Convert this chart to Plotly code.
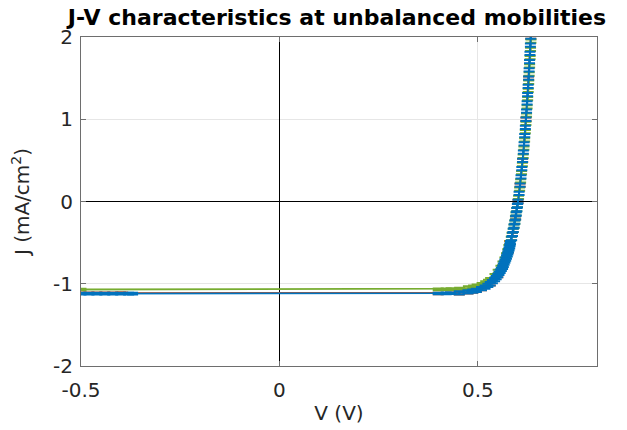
import plotly.graph_objects as go

# ---- data (V in volts, J in mA/cm^2) ----
red_v = [-0.50, -0.48, -0.46, -0.44, -0.42, -0.40, -0.395,
         0.40, 0.431, 0.453, 0.475, 0.487, 0.496, 0.509, 0.531, 0.550, 0.562,
         0.577, 0.580, 0.587, 0.595, 0.601, 0.6062, 0.6126, 0.621, 0.6277, 0.6332,
         0.6342]
red_j = [-1.115, -1.115, -1.115, -1.115, -1.115, -1.115, -1.115,
         -1.118, -1.115, -1.11, -1.10, -1.09, -1.08, -1.06, -1.0, -0.9, -0.8,
         -0.6, -0.5, -0.4, -0.2, 0.0, 0.2, 0.5, 1.0, 1.5, 2.0,
         2.1]

green_v = [-0.50, 0.40, 0.42, 0.4325, 0.454, 0.476, 0.489, 0.498, 0.5105, 0.5196,
           0.5266, 0.532, 0.543, 0.551, 0.558, 0.563, 0.568, 0.572, 0.575, 0.578,
           0.581, 0.584, 0.586, 0.589, 0.591, 0.593, 0.5945, 0.596, 0.598, 0.5995,
           0.6024, 0.6051, 0.6076, 0.6099, 0.612, 0.614, 0.6159, 0.6177, 0.6194, 0.621,
           0.6225, 0.6239, 0.6253, 0.6267, 0.6279, 0.6291, 0.6303, 0.6315, 0.6326, 0.6336,
           0.6346]
green_j = [-1.07, -1.069, -1.067, -1.065, -1.06, -1.05, -1.04, -1.03, -1.01, -0.99,
           -0.97, -0.95, -0.9, -0.85, -0.8, -0.75, -0.7, -0.65, -0.6, -0.55,
           -0.5, -0.45, -0.4, -0.35, -0.3, -0.25, -0.2, -0.15, -0.1, -0.05,
           0.05, 0.15, 0.25, 0.35, 0.45, 0.55, 0.65, 0.75, 0.85, 0.95,
           1.05, 1.15, 1.25, 1.35, 1.45, 1.55, 1.65, 1.75, 1.85, 1.95,
           2.05]

blue_v = [-0.50, -0.48, -0.46, -0.44, -0.42, -0.40, -0.38, -0.37,
          0.40, 0.42, 0.431, 0.453, 0.475, 0.487, 0.496, 0.509, 0.518, 0.525,
          0.531, 0.5365, 0.542, 0.546, 0.550, 0.553, 0.556, 0.559, 0.562, 0.564,
          0.566, 0.568, 0.570, 0.572, 0.574, 0.5755, 0.577, 0.5785, 0.580, 0.581,
          0.582, 0.585, 0.587, 0.589, 0.591, 0.593, 0.595, 0.5965, 0.598, 0.5996,
          0.601, 0.6037, 0.6062, 0.6085, 0.6106, 0.6126, 0.6145, 0.6162, 0.6179, 0.6195,
          0.621, 0.6225, 0.6239, 0.6252, 0.6265, 0.6277, 0.6289, 0.630, 0.6311, 0.6322,
          0.6332, 0.6342]
blue_j = [-1.12, -1.12, -1.12, -1.12, -1.12, -1.12, -1.12, -1.12,
          -1.118, -1.117, -1.115, -1.11, -1.10, -1.09, -1.08, -1.06, -1.04, -1.02,
          -1.0, -0.975, -0.95, -0.925, -0.9, -0.875, -0.85, -0.825, -0.8, -0.775,
          -0.75, -0.725, -0.7, -0.675, -0.65, -0.625, -0.6, -0.575, -0.55, -0.525,
          -0.5, -0.45, -0.4, -0.35, -0.3, -0.25, -0.2, -0.15, -0.1, -0.05,
          0.0, 0.1, 0.2, 0.3, 0.4, 0.5, 0.6, 0.7, 0.8, 0.9,
          1.0, 1.1, 1.2, 1.3, 1.4, 1.5, 1.6, 1.7, 1.8, 1.9,
          2.0, 2.1]

# small error-bar half-lengths
red_err = [0.01] * 9 + [0.02] * (len(red_j) - 9)
green_err = [0.01] * 5 + [0.02] * (len(green_j) - 5)
blue_err = [0.01] * 11 + [0.02] * (len(blue_j) - 11)

x_ticks = [-0.5, 0, 0.5]
x_ticktext = ["-0.5", "0", "0.5"]
y_ticks = [-2, -1, 0, 1, 2]
y_ticktext = ["-2", "-1", "0", "1", "2"]

FONT = "DejaVu Sans"

fig = go.Figure()
for v, j, e, col in [(red_v, red_j, red_err, "#D95319"),
                     (green_v, green_j, green_err, "#77AC30"),
                     (blue_v, blue_j, blue_err, "#0072BD")]:
    fig.add_trace(go.Scatter(
        x=v, y=j, mode="lines",
        line=dict(color=col, width=1.8),
        error_y=dict(type="data", array=e, visible=True, color=col,
                     thickness=2, width=5.5),
        showlegend=False,
    ))

axis_common = dict(
    showline=True, linecolor="#6e6e6e", linewidth=1, mirror="ticks",
    ticks="inside", ticklen=5, tickcolor="#6e6e6e",
    showgrid=True, gridcolor="#e6e6e6", gridwidth=1,
    zeroline=True, zerolinecolor="#000000", zerolinewidth=1,
    automargin=False,
    tickfont=dict(family=FONT, size=20, color="#262626"),
    title_font=dict(family=FONT, size=20, color="#262626"),
)

fig.update_layout(
    width=627, height=430,
    margin=dict(l=73, r=38, t=29, b=72),
    paper_bgcolor="white", plot_bgcolor="white",
    title=dict(text="<b>J-V characteristics at unbalanced mobilities</b>",
               x=0.5247, xref="container", xanchor="center",
               y=0.979, yref="container", yanchor="middle",
               font=dict(family=FONT, size=22, color="#000000"),
               automargin=False),
    xaxis=dict(range=[-0.5, 0.8], tickvals=x_ticks, ticktext=x_ticktext,
               ticklabelstandoff=6,
               title=dict(text="V (V)", standoff=4), **axis_common),
    yaxis=dict(range=[-2, 2], tickvals=y_ticks, ticktext=y_ticktext,
               ticklabelstandoff=3,
               title=dict(text="J (mA/cm<sup>2</sup>)", standoff=24), **axis_common),
)

fig.write_html("out.html")
